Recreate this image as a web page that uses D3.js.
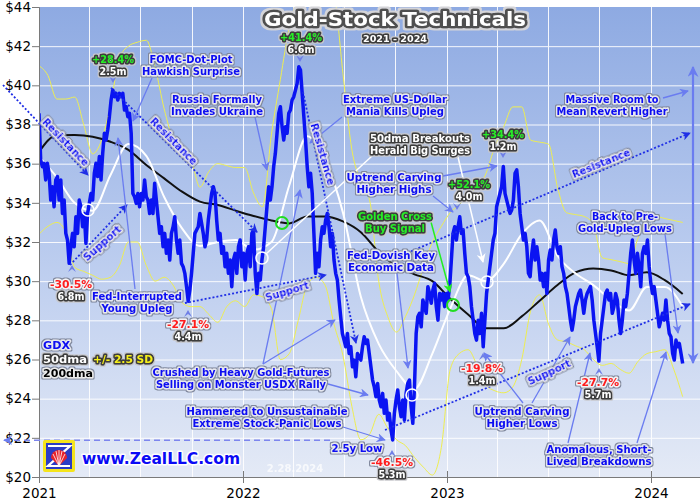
<!DOCTYPE html>
<html>
<head>
<meta charset="utf-8">
<script src="https://cdn.jsdelivr.net/npm/d3@7"></script>
<style>
  body { margin: 0; background: #fff; }
  svg { display: block; }
</style>
</head>
<body>
<svg id="chart"></svg>
<script>
const width = 700;
const height = 500;

// GDX closes, one every 3 calendar days from 2021-01-01
const priceStart = new Date(2021, 0, 1);
const priceStepDays = 3;
const gdxClose = [
  38.57, 36.19, 35.85, 36.02, 35.17, 36.02, 35.51, 34.14, 34.82, 33.80,
  35.17, 35.34, 34.14, 35.17, 33.46, 34.14, 32.44, 32.10, 30.91, 31.76,
  32.44, 31.76, 33.29, 32.44, 34.14, 33.80, 32.78, 33.46, 31.93, 33.46,
  33.97, 34.48, 34.14, 35.51, 36.02, 35.34, 36.36, 35.17, 36.53, 37.55,
  37.21, 37.72, 38.40, 39.25, 39.76, 39.42, 39.59, 39.25, 39.59, 39.42,
  39.59, 38.74, 38.91, 38.40, 38.57, 37.55, 34.48, 34.31, 33.97, 34.48,
  33.80, 34.48, 34.14, 35.17, 34.31, 34.14, 33.46, 34.14, 33.46, 35.00,
  34.14, 33.29, 32.44, 32.78, 31.76, 32.44, 31.42, 32.10, 31.08, 32.44,
  32.78, 33.29, 32.10, 31.42, 32.10, 30.91, 30.74, 30.40, 29.72, 28.98,
  29.55, 30.40, 31.42, 32.44, 32.61, 32.78, 33.46, 32.95, 32.44, 31.76,
  32.10,
  33.12, 33.80, 34.48, 34.82, 34.48, 33.12, 32.10, 32.44, 31.42, 31.76,
  30.74, 31.42, 30.40, 31.08, 29.72, 31.08, 31.42, 30.40, 31.76, 32.10,
  30.74, 31.42, 30.06, 31.42, 31.76, 30.74, 32.44, 32.61, 30.40, 29.37,
  30.40, 30.06, 31.08, 31.76, 32.78, 33.80, 34.82, 34.14, 34.82, 35.85,
  36.53, 37.55, 38.57, 38.91, 37.89, 37.21, 37.89, 37.55, 38.57, 38.74,
  39.25, 39.42, 39.76, 40.10, 40.95, 40.78, 39.59, 38.40, 37.21, 35.85,
  34.82, 35.51, 34.48, 32.44, 30.40, 31.42, 30.74, 32.10, 32.78, 32.44,
  33.12, 33.46, 32.78, 31.76, 32.44, 31.08, 30.40, 30.06, 29.04, 28.18,
  27.33, 26.99, 26.65, 27.33, 26.31, 26.65, 25.63, 25.97, 25.12, 26.31,
  26.14, 25.97, 26.65, 27.16, 26.82, 26.99, 26.31,
  25.63, 24.95, 24.61, 24.10, 24.78, 23.93, 23.59, 24.27, 23.25, 23.93,
  22.91, 23.25, 22.40, 21.89, 23.25, 23.93, 24.44, 23.59, 23.08, 23.93,
  22.91, 24.27, 24.78, 24.95, 23.59, 22.74, 24.61, 27.33, 28.18, 28.36,
  27.67, 29.04, 28.70, 28.36, 29.72, 29.37, 28.87, 29.55, 29.89, 28.70,
  28.01, 29.37, 29.04, 29.37, 28.70, 29.37, 29.04, 29.72, 31.08, 32.44,
  32.78, 32.10, 32.78, 33.29, 32.44, 32.61, 31.42, 30.40, 30.23, 29.72,
  28.70, 28.01, 27.33, 26.99, 28.01, 27.33, 28.36, 26.65, 28.01, 29.37,
  30.06, 30.74, 31.42, 32.10, 32.44, 33.80, 34.14, 34.48, 34.82, 35.85,
  34.48, 34.14, 33.80, 33.46, 33.63, 34.14, 35.51, 35.68, 34.82, 33.46,
  32.78, 32.10, 32.44, 31.76, 30.40, 30.23, 31.42, 32.10, 31.08, 31.76,
  31.08, 30.06, 30.40, 29.72, 30.40, 29.37, 31.08, 31.59, 31.08, 32.10,
  32.61, 31.76, 31.42, 31.76, 30.74, 30.40, 29.72, 29.37, 28.70, 28.01,
  27.50, 28.01, 28.70, 29.04, 29.37, 29.55, 29.04, 28.36, 29.04, 29.37,
  29.55, 29.72, 29.04, 28.01, 27.33, 26.65, 25.92, 27.33, 28.01, 28.70,
  29.37, 29.55, 29.04, 29.37, 28.36, 28.70, 29.37, 29.04, 28.01, 27.33,
  28.01, 29.04, 28.70, 29.37, 30.40, 31.42, 32.10, 31.08, 30.40, 31.42,
  30.74, 29.72, 31.42, 31.76, 31.42, 32.10, 30.74, 29.89, 29.37, 29.72,
  29.04, 28.36, 27.67, 28.01, 28.36, 28.01, 29.04, 28.01, 27.33, 27.16,
  26.31, 25.97, 26.99, 26.65, 26.82, 26.31, 25.80
];

// moving averages, one every 32 days
const maStepDays = 32;
const ma50 = [
  36.36, 35.3, 33.99, 33.6, 35.42, 37.0, 36.4, 34.3, 32.7, 31.8,
  32.0, 32.1, 31.6, 32.0, 34.9, 37.4, 36.2, 33.5, 29.2, 26.8,
  25.4, 24.5, 26.3, 28.6, 30.3, 30.0, 30.9, 32.4, 33.1, 31.3,
  30.4, 29.8, 29.04, 28.5, 29.7, 29.7, 28.7
];
const ma200 = [
  36.6, 37.45, 37.46, 37.38, 37.12, 36.7, 35.93, 35.25, 34.57, 34.06,
  33.89, 33.6, 33.33, 33.1, 32.95, 33.3, 33.3, 33.05, 32.5, 31.5,
  30.75, 30.35, 30.0, 29.1, 28.3, 27.6, 27.6, 28.2, 29.0, 29.8,
  30.45, 30.65, 30.55, 30.3, 30.45, 30.05, 29.35
];

// 50dma +/- 2.5 SD bands, one every 16 days
const bandStepDays = 16;
const upperBand = [
  41.0, 40.5, 39.3, 39.3, 39.4, 38.0, 36.5, 37.2, 39.0, 41.4,
  42.0, 42.2, 42.3, 40.9, 38.8, 37.2, 36.3, 36.1, 34.8, 35.6,
  36.0, 35.9, 35.8, 35.8, 34.5, 33.8, 37.5, 40.3, 43.0, 44.6,
  46.0, 46.5, 46.0, 44.8, 40.6, 36.7, 35.1, 34.1, 30.0, 28.2,
  27.4, 28.2, 29.3, 30.7, 32.0, 32.8, 33.5, 33.9, 34.4, 34.8,
  35.5, 36.9, 37.9, 38.9, 38.9, 37.2, 37.1, 37.0, 34.8, 33.5,
  33.4, 33.3, 32.9, 31.2, 31.1, 31.0, 30.9, 32.2, 33.2, 33.3,
  33.2, 33.1, 33.0
];
const lowerBand = [
  32.4, 32.8, 33.0, 32.5, 30.7, 30.5, 30.3, 30.1, 30.2, 30.8,
  32.0, 32.0, 30.8, 30.0, 30.2, 29.8, 28.9, 28.7, 28.7, 28.3,
  27.9, 28.7, 29.0, 28.7, 29.3, 29.2, 28.6, 26.0, 26.3, 28.0,
  29.8, 30.2, 29.8, 27.8, 26.2, 23.6, 21.9, 22.2, 23.2, 22.5,
  21.9, 21.6, 21.0, 20.5, 20.1, 21.5, 25.5, 26.3, 26.5, 25.7,
  24.7, 24.4, 24.3, 24.6, 26.0, 28.5, 29.3, 27.8, 27.0, 26.9,
  26.7, 26.5, 26.0, 25.7, 25.8, 25.5, 25.3, 25.9, 26.3, 26.4,
  26.5, 25.5, 24.1
];

const yearLabels = ["2021", "2022", "2023", "2024"];
const priceTicks = [20, 22, 24, 26, 28, 30, 32, 34, 36, 38, 40, 42, 44];
const lowLevel = 21.88;

const font = "'DejaVu Sans', Verdana, sans-serif";

const x = d3.scaleTime()
    .domain([new Date(2021, 0, 1), new Date(2024, 2, 29)])
    .range([39, 700]);
const y = d3.scaleLinear().domain([20, 44]).range([477, 7]);

const svg = d3.select("#chart")
    .attr("width", width)
    .attr("height", height)
    .attr("viewBox", [0, 0, width, height])
    .style("font-family", font);

const defs = svg.append("defs");

const grad = defs.append("linearGradient")
    .attr("id", "bg").attr("x1", 0).attr("y1", 0).attr("x2", 0).attr("y2", 1);
grad.append("stop").attr("offset", "0%").attr("stop-color", "#8eaae2");
grad.append("stop").attr("offset", "50%").attr("stop-color", "#b8caee");
grad.append("stop").attr("offset", "100%").attr("stop-color", "#e4eaf6");

defs.append("clipPath").attr("id", "plot")
    .append("rect").attr("x", 39).attr("y", 7).attr("width", 661).attr("height", 470);

function addMarker(id, color, size) {
    defs.append("marker")
        .attr("id", id)
        .attr("viewBox", "0 -5 10 10")
        .attr("refX", 9).attr("refY", 0)
        .attr("markerWidth", size).attr("markerHeight", size)
        .attr("markerUnits", "userSpaceOnUse")
        .attr("orient", "auto-start-reverse")
        .append("path")
        .attr("d", "M0,-5L10,0L0,5L3,0Z")
        .attr("fill", color);
}
addMarker("arrBlue", "#6a7cf0", 9);
addMarker("arrDot", "#1f2ee6", 9);
addMarker("arrWhite", "#ffffff", 9);
addMarker("arrGreen", "#22ee22", 9);
addMarker("arrBig", "#6a7cf0", 11);

// outer glow behind outlined text
function addHalo(id, color, radius) {
    const f = defs.append("filter").attr("id", id)
        .attr("x", "-20%").attr("y", "-50%").attr("width", "140%").attr("height", "200%");
    f.append("feMorphology").attr("in", "SourceAlpha").attr("operator", "dilate")
        .attr("radius", radius).attr("result", "wide");
    f.append("feFlood").attr("flood-color", color).attr("result", "tint");
    f.append("feComposite").attr("in", "tint").attr("in2", "wide").attr("operator", "in").attr("result", "glow");
    const m = f.append("feMerge");
    m.append("feMergeNode").attr("in", "glow");
    m.append("feMergeNode").attr("in", "SourceGraphic");
}
addHalo("haloDark", "#7f879c", 1);
addHalo("haloLight", "#c8c8cc", 1);
addHalo("haloTitle", "#d4d4d8", 1.5);

// plot background
svg.append("rect")
    .attr("x", 39).attr("y", 7).attr("width", 661).attr("height", 470)
    .attr("fill", "url(#bg)");

// grid
const grid = svg.append("g").attr("stroke", "#ffffff").attr("stroke-width", 1).attr("opacity", 0.9);
grid.selectAll("line.h")
    .data(priceTicks.filter(d => d > 20 && d < 44))
    .enter().append("line")
    .attr("x1", 39).attr("x2", 700)
    .attr("y1", d => y(d) + 0.5).attr("y2", d => y(d) + 0.5);
grid.selectAll("line.v")
    .data(d3.timeMonth.every(3).range(new Date(2021, 3, 1), new Date(2024, 2, 29)))
    .enter().append("line")
    .attr("x1", d => Math.round(x(d)) + 0.5).attr("x2", d => Math.round(x(d)) + 0.5)
    .attr("y1", 7).attr("y2", 477);

// series
const plot = svg.append("g").attr("clip-path", "url(#plot)");

function stepLine(stepDays) {
    return d3.line()
        .x((d, i) => x(d3.timeDay.offset(priceStart, i * stepDays)))
        .y(d => y(d));
}

plot.append("path").datum(upperBand)
    .attr("d", stepLine(bandStepDays).curve(d3.curveMonotoneX))
    .attr("fill", "none").attr("stroke", "#eeee50").attr("stroke-width", 1);
plot.append("path").datum(lowerBand)
    .attr("d", stepLine(bandStepDays).curve(d3.curveMonotoneX))
    .attr("fill", "none").attr("stroke", "#eeee50").attr("stroke-width", 1);
plot.append("path").datum(ma200)
    .attr("d", stepLine(maStepDays).curve(d3.curveMonotoneX))
    .attr("fill", "none").attr("stroke", "#111111").attr("stroke-width", 2);
plot.append("path").datum(ma50)
    .attr("d", stepLine(maStepDays).curve(d3.curveMonotoneX))
    .attr("fill", "none").attr("stroke", "#ffffff").attr("stroke-width", 2);
plot.append("path").datum(gdxClose)
    .attr("d", stepLine(priceStepDays))
    .attr("fill", "none").attr("stroke", "#0a14f2").attr("stroke-width", 3.5)
    .attr("stroke-linejoin", "round");

// axes
const yAxis = svg.append("g").attr("transform", "translate(39,0)");
yAxis.call(d3.axisLeft(y).tickValues(d3.range(20, 44.01, 0.5)).tickSize(3).tickFormat(""));
yAxis.call(d3.axisLeft(y).tickValues(priceTicks).tickSize(7).tickFormat(d => "$" + d));
yAxis.selectAll("path, line").attr("stroke", "#7a7a7a");
yAxis.selectAll("text")
    .attr("font-family", font).attr("font-size", 13.5).attr("fill", "#000")
    .attr("x", -8);

svg.append("line")
    .attr("x1", 39).attr("x2", 700).attr("y1", 477.5).attr("y2", 477.5)
    .attr("stroke", "#7a7a7a");
svg.selectAll("g.year")
    .data(yearLabels)
    .enter().append("g")
    .attr("transform", d => `translate(${Math.round(x(new Date(+d, 0, 1))) + 0.5},0)`)
    .each(function (d) {
        const g = d3.select(this);
        g.append("line").attr("y1", 471).attr("y2", 483).attr("stroke", "#7a7a7a");
        g.append("text").text(d).attr("y", 498).attr("text-anchor", "middle")
            .attr("font-size", 13.5).attr("fill", "#000");
    });

// outlined text styles: fill, inner outline, outline width, outer glow
const styles = {
    blue:   { fill: "#0b0bf2", stroke: "#e6e8f0", sw: 3, halo: "haloDark" },
    white:  { fill: "#ffffff", stroke: "#3c3c3c", sw: 3.5, halo: "haloLight" },
    green:  { fill: "#28f028", stroke: "#3c3c3c", sw: 3.5, halo: "haloLight" },
    red:    { fill: "#ff1c1c", stroke: "#f2f2f6", sw: 3, halo: "haloDark" },
    yellow: { fill: "#f6f01a", stroke: "#3c3c3c", sw: 3.5, halo: "haloLight" },
    black:  { fill: "#000000", stroke: "#ececec", sw: 3, halo: "haloDark" },
    title:  { fill: "#ffffff", stroke: "#505050", sw: 5, halo: "haloTitle" }
};

const notes = svg.append("g");

function haloText(str, cx, cy, style, len, size = 10.5, anchor = "middle", rotate = 0) {
    const s = styles[style];
    const t = notes.append("text").text(str)
        .attr("transform", `translate(${cx},${cy}) rotate(${rotate})`)
        .attr("dy", "0.36em")
        .attr("text-anchor", anchor)
        .attr("font-size", size)
        .attr("font-weight", "bold")
        .attr("fill", s.fill)
        .attr("stroke", s.stroke)
        .attr("stroke-width", s.sw)
        .attr("stroke-linejoin", "round")
        .attr("paint-order", "stroke")
        .attr("filter", `url(#${s.halo})`);
    if (len) t.attr("textLength", len).attr("lengthAdjust", "spacingAndGlyphs");
    return t;
}

function arrow(x1, y1, x2, y2, color, marker, width = 1.3, dash = null) {
    const l = notes.append("line")
        .attr("x1", x1).attr("y1", y1).attr("x2", x2).attr("y2", y2)
        .attr("stroke", color).attr("stroke-width", width);
    if (marker) l.attr("marker-end", `url(#${marker})`);
    if (dash) l.attr("stroke-dasharray", dash);
    return l;
}

function chevron(cx, tipY, dir) {
    // dir 1 = points down, -1 = points up
    notes.append("path")
        .attr("d", `M${cx - 4},${tipY - 7 * dir} L${cx},${tipY} L${cx + 4},${tipY - 7 * dir} L${cx},${tipY - 4 * dir}Z`)
        .attr("fill", "#6f7fe6");
}

// dotted trend lines
const trendLines = [
    [3, 85, 88, 175], [111, 88, 257, 232], [70, 265, 127, 205], [185, 303, 326, 275],
    [303, 92, 356, 343], [400, 256, 690, 133], [385, 430, 690, 304]
];
trendLines.forEach(t => arrow(t[0], t[1], t[2], t[3], "#1f2ee6", "arrDot", 1.8, "2,2"));

// low-level dashed line
arrow(330, y(lowLevel), 4, y(lowLevel), "#7d86ee", "arrBlue", 1.5, "6,4");

// annotation arrows
const pointerLines = [
    [152, 78, 133, 121], [255, 117, 267, 170], [135, 289, 118, 138], [342, 117, 310, 143],
    [663, 98, 688, 91], [443, 176, 497, 166], [433, 196, 453, 212], [397, 273, 408, 368],
    [263, 364, 300, 190], [263, 364, 335, 320], [328, 384, 368, 395], [343, 427, 385, 440],
    [523, 403, 484, 353], [532, 403, 570, 337], [568, 443, 590, 353], [637, 443, 666, 352],
    [665, 234, 678, 333]
];
pointerLines.forEach(p => arrow(p[0], p[1], p[2], p[3], "#6a7cf0", "arrBlue"));

arrow(372, 156, 266, 254, "#ffffff", null, 1.5);
arrow(458, 157, 483, 262, "#ffffff", "arrWhite", 1.5);
arrow(431, 222, 450, 292, "#22ee22", "arrGreen", 1.5);

// big double arrow on the right
arrow(693, 363, 693, 67, "#6a7cf0", "arrBig", 2.2).attr("marker-start", "url(#arrBig)");

// crossover circles
[[282, 223], [453, 305]].forEach(c => notes.append("circle")
    .attr("cx", c[0]).attr("cy", c[1]).attr("r", 6)
    .attr("fill", "none").attr("stroke", "#22dd22").attr("stroke-width", 2));
[[88, 210], [262, 258], [412, 395], [487, 282]].forEach(c => notes.append("circle")
    .attr("cx", c[0]).attr("cy", c[1]).attr("r", 6)
    .attr("fill", "none").attr("stroke", "#ffffff").attr("stroke-width", 1.6));

// chevrons at turning points
[[113, 83, 1], [300, 62, 1], [503, 158, 1], [457, 210, 1]].forEach(c => chevron(...c));
[[72, 265, -1], [188, 310, -1], [392, 450, -1], [483, 353, -1], [599, 368, -1]].forEach(c => chevron(...c));

// blue notes: lines, centre x, first line centre y, line widths
const blueNotes = [
    [["FOMC-Dot-Plot", "Hawkish Surprise"], 191, 59, [83, 98]],
    [["Russia Formally", "Invades Ukraine"], 217, 99, [90, 92]],
    [["Extreme US-Dollar", "Mania Kills Upleg"], 395, 99, [104, 98]],
    [["Massive Room to", "Mean Revert Higher"], 612, 99, [93, 111]],
    [["Uptrend Carving", "Higher Highs"], 394, 177, [95, 75]],
    [["Fed-Dovish Key", "Economic Data"], 391, 255, [88, 86]],
    [["Back to Pre-", "Gold-Upleg Lows"], 625, 216, [66, 94]],
    [["Fed-Interrupted", "Young Upleg"], 137, 296, [90, 71]],
    [["Crushed by Heavy Gold-Futures", "Selling on Monster USDX Rally"], 241, 372, [177, 170]],
    [["Hammered to Unsustainable", "Extreme Stock-Panic Lows"], 267, 411, [161, 149]],
    [["Uptrend Carving", "Higher Lows"], 522, 411, [95, 71]],
    [["Anomalous, Short-", "Lived Breakdowns"], 599, 449, [105, 105]],
    [["2.5y Low"], 357, 448, [51]]
];
blueNotes.forEach(n => n[0].forEach((line, i) => haloText(line, n[1], n[2] + i * 12, "blue", n[3][i])));

haloText("50dma Breakouts", 420, 138, "white", 100);
haloText("Herald Big Surges", 420, 150, "white", 100);
haloText("Golden Cross", 395, 216, "green", 74);
haloText("Buy Signal", 395, 228, "green", 60);

// rotated trend labels
[["Resistance", 66, 142, 62, 46], ["Resistance", 174, 141, 62, 45], ["Resistance", 323, 154, 64, 74],
 ["Resistance", 601, 163, 62, -22], ["Support", 102, 243, 47, -42], ["Support", 287, 291, 45, -17],
 ["Support", 549, 372, 46, -25]]
    .forEach(r => haloText(r[0], r[1], r[2], "blue", r[3], 10.5, "middle", r[4]));

// swing percentages and durations
const swings = [
    ["+28.4%", "2.5m", 113, 59, "green"], ["+41.4%", "6.6m", 301, 37, "green"],
    ["+34.4%", "1.2m", 503, 134, "green"], ["+52.1%", "4.0m", 469, 184, "green"],
    ["-30.5%", "6.8m", 71, 284, "red"], ["-27.1%", "4.4m", 188, 324, "red"],
    ["-46.5%", "5.3m", 392, 462, "red"], ["-19.8%", "1.4m", 482, 368, "red"],
    ["-27.7%", "5.7m", 598, 382, "red"]
];
swings.forEach(s => {
    haloText(s[0], s[2], s[3], s[4], 42);
    haloText(s[1], s[2], s[3] + 12, "white", 27);
});

// legend
haloText("GDX", 43, 345, "blue", 27, 11, "start");
haloText("50dma", 43, 359, "white", 44, 11, "start");
haloText("+/- 2.5 SD", 93, 359, "yellow", 60, 11, "start");
haloText("200dma", 43, 373, "black", 50, 11, "start");

// title
haloText("Gold-Stock Technicals", 395, 19.5, "title", 262, 19);
haloText("2021 - 2024", 395, 39, "white", 64, 9);

// logo
const logo = notes.append("g");
logo.append("rect").attr("x", 43).attr("y", 440).attr("width", 32).attr("height", 32)
    .attr("rx", 2).attr("fill", "#f4e41c");
logo.append("rect").attr("x", 46).attr("y", 443).attr("width", 26).attr("height", 26).attr("fill", "#2b3cc6");
logo.append("path").attr("d", "M48,446 L70,446 L48,466 L70,466")
    .attr("fill", "none").attr("stroke", "#ffffff").attr("stroke-width", 2.2);
logo.append("path").attr("d", "M51,458 A8,8 0 0 1 67,458 L59,466 Z").attr("fill", "#e8222a");
logo.append("path").attr("d", "M59,466 L53,454 M59,466 L56,451 M59,466 L59,450 M59,466 L62,451 M59,466 L65,454")
    .attr("stroke", "#ffffff").attr("stroke-width", 0.8);

notes.append("text").text("www.ZealLLC.com")
    .attr("x", 161).attr("y", 458).attr("dy", "0.36em")
    .attr("text-anchor", "middle").attr("font-size", 16).attr("font-weight", "bold")
    .attr("textLength", 158).attr("lengthAdjust", "spacingAndGlyphs")
    .attr("fill", "#0a0af5").attr("stroke", "#ffffff").attr("stroke-width", 3)
    .attr("paint-order", "stroke").attr("stroke-linejoin", "round");

notes.append("text").text("2.28.2024")
    .attr("x", 295).attr("y", 468).attr("dy", "0.36em")
    .attr("text-anchor", "middle").attr("font-size", 10).attr("font-weight", "bold")
    .attr("fill", "#ffffff").attr("opacity", 0.75);
</script>
</body>
</html>
